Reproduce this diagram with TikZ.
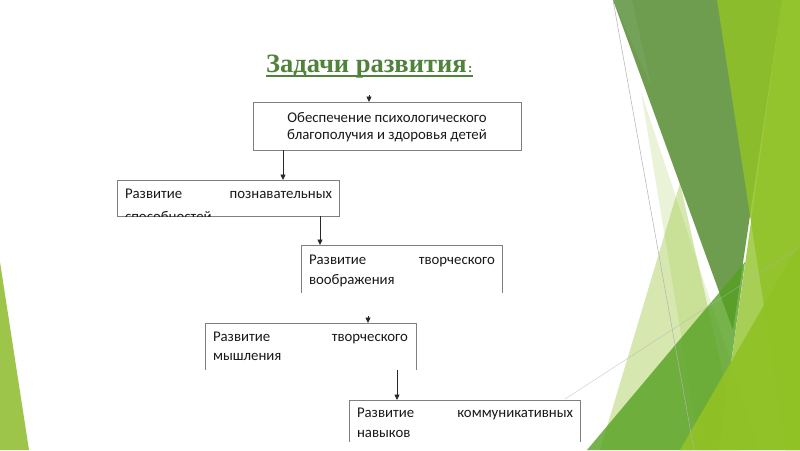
\documentclass[tikz,border=0pt]{standalone}
\usepackage{fontspec}
\setmainfont{Liberation Serif}
\newfontfamily\boxfont{Carlito}
\usetikzlibrary{arrows.meta}
\definecolor{accA}{RGB}{144,194,38}
\definecolor{accB}{RGB}{84,160,33}
\definecolor{olivegreen}{RGB}{110,157,79}
\definecolor{olivelight}{RGB}{116,162,90}
\definecolor{leftgreen}{RGB}{157,197,74}
\definecolor{titlegreen}{RGB}{79,130,59}
\definecolor{boxgray}{RGB}{128,128,128}
\definecolor{linkgray}{RGB}{40,40,40}
\begin{document}
\begin{tikzpicture}[x=1pt,y=-1pt,
  boxshape/.style={rectangle, draw=none, inner sep=0pt, outer sep=0pt, anchor=north west},
  boxline/.style={draw=boxgray, line width=0.8pt},
  boxtext/.style={inner sep=0pt, outer sep=0pt, font=\boxfont\fontsize{14.8}{17}\selectfont, text=black!90},
  conn/.style={draw=linkgray, line width=0.7pt, -{Triangle[length=5.5pt,width=5pt]}},
  thinline/.style={draw=gray!60, line width=0.5pt}]
\useasboundingbox (0,0) rectangle (800,450);
\fill[white] (0,0) rectangle (800,450);

% background facets
\fill[leftgreen] (0,262) -- (29,450) -- (0,450) -- cycle;
\fill[accA, opacity=0.18] (641,92) -- (760,450) -- (700,450) -- cycle;
\fill[accA, opacity=0.36] (680,183) -- (740,450) -- (600,450) -- cycle;
\fill[accA, opacity=0.78] (782,0) -- (800,0) -- (800,450) -- (719,450) -- cycle;
\fill[olivegreen] (613,0) -- (782,0) -- (733,330) -- cycle;
\fill[olivelight] (613,0) -- (632,0) -- (651,86) -- cycle;
\fill[accB, opacity=0.8] (587,450) -- (745,262) -- (719,450) -- cycle;
\fill[accA, opacity=0.85] (717,0) -- (800,0) -- (800,450) -- (786,450) -- cycle;
\fill[accA, opacity=0.95] (680,450) -- (800,243) -- (800,450) -- cycle;
\draw[thinline] (613,0) -- (694,450);
\draw[thinline, opacity=0.6] (565,399) -- (800,247);

% title
\node[inner sep=0pt, anchor=base west, text=titlegreen, font=\fontsize{26.5}{30}\selectfont\bfseries] (title) at (266,72) {Задачи развития};
\node[inner sep=0pt, anchor=base west, text=titlegreen, font=\fontsize{13}{15}\selectfont\bfseries] (colon) at ([xshift=1pt]title.base east) {:};
\draw[titlegreen, line width=1.6pt] ([yshift=-4pt]title.base west) -- ([yshift=-4pt]colon.base east);

% boxes
\node[boxshape, minimum width=268pt, minimum height=48pt] (b1) at (253,102) {};
\node[boxshape, minimum width=222pt, minimum height=36pt] (b2) at (117,180) {};
\node[boxshape, minimum width=201pt, minimum height=48pt] (b3) at (301,245) {};
\node[boxshape, minimum width=211pt, minimum height=47pt] (b4) at (205,323) {};
\node[boxshape, minimum width=231pt, minimum height=42pt] (b5) at (349,400) {};

\draw[boxline] (b1.north west) rectangle (b1.south east);
\draw[boxline] (b2.north west) rectangle (b2.south east);
\draw[boxline] (b3.south west) -- (b3.north west) -- (b3.north east) -- (b3.south east);
\draw[boxline] (b4.south west) -- (b4.north west) -- (b4.north east) -- (b4.south east);
\draw[boxline] (b5.south west) -- (b5.north west) -- (b5.north east) -- (b5.south east);

% box texts
\node[boxtext, anchor=base] (b1l1) at (387,122) {Обеспечение психологического};
\node[boxtext, anchor=base] (b1l2) at (387,139) {благополучия и здоровья детей};

\node[boxtext, anchor=base west] (b2a) at (125,198) {Развитие};
\node[boxtext, anchor=base east] (b2b) at (332,198) {познавательных};
\begin{scope}
  \clip (b2.north west) rectangle (b2.south east);
  \node[boxtext, anchor=base west] (b2c) at (125,221) {способностей};
\end{scope}

\node[boxtext, anchor=base west] (b3a) at (309,264) {Развитие};
\node[boxtext, anchor=base east] (b3b) at (495,264) {творческого};
\node[boxtext, anchor=base west] (b3c) at (309,284) {воображения};

\node[boxtext, anchor=base west] (b4a) at (213,341) {Развитие};
\node[boxtext, anchor=base east] (b4b) at (408,341) {творческого};
\node[boxtext, anchor=base west] (b4c) at (213,360) {мышления};

\node[boxtext, anchor=base west] (b5a) at (357,417) {Развитие};
\node[boxtext, anchor=base east] (b5b) at (573,417) {коммуникативных};
\node[boxtext, anchor=base west] (b5c) at (357,437) {навыков};

% connectors
\coordinate (t1) at (369,95);
\coordinate (t4) at (368,316);
\draw[conn] (t1) -- (t1 |- b1.north);
\draw[conn] ([xshift=30pt]b1.south west) -- ([xshift=30pt]b1.south west |- b2.north);
\draw[conn] ([xshift=203pt]b2.south west) -- ([xshift=203pt]b2.south west |- b3.north);
\draw[conn] (t4) -- (t4 |- b4.north);
\draw[conn] ([xshift=192pt]b4.south west) -- ([xshift=192pt]b4.south west |- b5.north);
\end{tikzpicture}
\end{document}
